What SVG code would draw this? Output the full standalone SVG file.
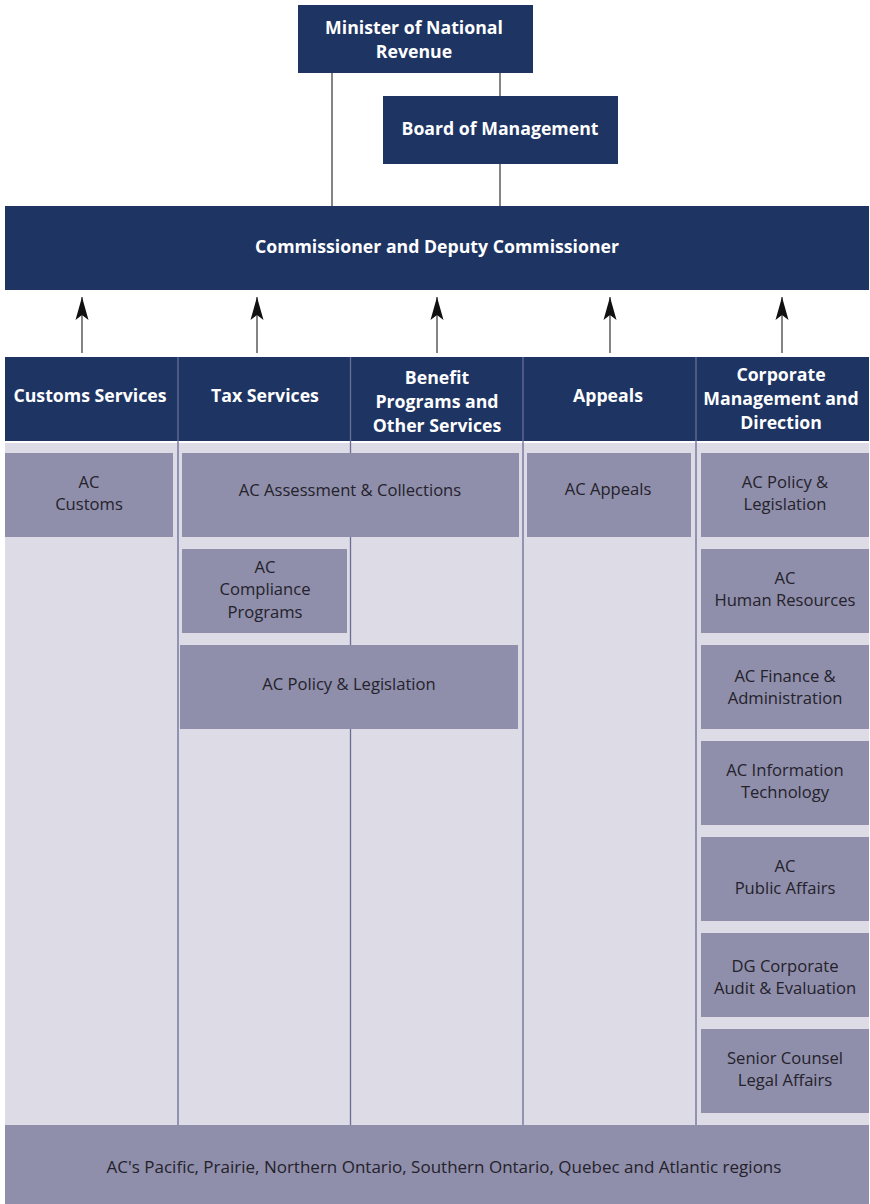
<svg xmlns="http://www.w3.org/2000/svg" width="870" height="1204" viewBox="0 0 870 1204">
<defs>
<style>
.dark{fill:#1e3463}
.light{fill:#dddbe6}
.box{fill:#8f8eab}
.hd{font-family:"Open Sans","Noto Sans",sans-serif;font-weight:bold;font-size:17.7px;fill:#ffffff;text-anchor:middle}
.tx{font-family:"Open Sans","Noto Sans",sans-serif;font-size:16.6px;fill:#24222a;text-anchor:middle}
.div{stroke:#6a6d96;stroke-width:1.3;fill:none}
.con{stroke:#333333;stroke-width:1.2;fill:none}
</style>
<marker id="arr" viewBox="-24 -7 25 14" refX="0" refY="0" markerWidth="25" markerHeight="14" markerUnits="userSpaceOnUse" orient="auto">
<path d="M0,0 L-23,-6.5 L-18,0 L-23,6.5 Z" fill="#111111"/>
</marker>
</defs>
<rect width="870" height="1204" fill="#ffffff"/>

<g id="connectors">
<line class="con" x1="332" y1="73" x2="332" y2="206"/>
<line class="con" x1="500" y1="73" x2="500" y2="96"/>
<line class="con" x1="500" y1="164" x2="500" y2="206"/>
<line class="con" x1="82" y1="353" x2="82" y2="297" marker-end="url(#arr)"/>
<line class="con" x1="257" y1="353" x2="257" y2="297" marker-end="url(#arr)"/>
<line class="con" x1="437" y1="353" x2="437" y2="297" marker-end="url(#arr)"/>
<line class="con" x1="610" y1="353" x2="610" y2="297" marker-end="url(#arr)"/>
<line class="con" x1="782" y1="353" x2="782" y2="297" marker-end="url(#arr)"/>
</g>

<g id="minister">
<rect class="dark" x="298" y="5" width="235" height="68"/>
<text class="hd" x="414" y="34">Minister of National</text>
<text class="hd" x="414" y="58">Revenue</text>
</g>
<g id="board">
<rect class="dark" x="383" y="96" width="235" height="68"/>
<text class="hd" x="500" y="135">Board of Management</text>
</g>
<g id="commissioner">
<rect class="dark" x="5" y="206" width="864" height="84"/>
<text class="hd" x="437" y="253">Commissioner and Deputy Commissioner</text>
</g>

<g id="columns-bg">
<rect class="dark" x="5" y="357" width="864" height="84"/>
<rect class="light" x="5" y="443" width="864" height="682"/>
</g>

<g id="dividers">
<line class="div" x1="178" y1="357" x2="178" y2="1125"/>
<line class="div" x1="350.5" y1="357" x2="350.5" y2="1125"/>
<line class="div" x1="523" y1="357" x2="523" y2="1125"/>
<line class="div" x1="696" y1="357" x2="696" y2="1125"/>
</g>

<g id="hdr-customs"><text class="hd" x="90" y="402">Customs Services</text></g>
<g id="hdr-tax"><text class="hd" x="265" y="402">Tax Services</text></g>
<g id="hdr-benefit">
<text class="hd" x="437" y="384">Benefit</text>
<text class="hd" x="437" y="408">Programs and</text>
<text class="hd" x="437" y="432">Other Services</text>
</g>
<g id="hdr-appeals"><text class="hd" x="608" y="402">Appeals</text></g>
<g id="hdr-corporate">
<text class="hd" x="781" y="381">Corporate</text>
<text class="hd" x="781" y="405">Management and</text>
<text class="hd" x="781" y="429">Direction</text>
</g>

<g id="ac-customs">
<rect class="box" x="5" y="453" width="168" height="84"/>
<text class="tx" x="89" y="488">AC</text>
<text class="tx" x="89" y="510">Customs</text>
</g>
<g id="ac-assessment">
<rect class="box" x="182" y="453" width="337" height="84"/>
<text class="tx" x="350" y="496">AC Assessment &amp; Collections</text>
</g>
<g id="ac-compliance">
<rect class="box" x="182" y="549" width="165" height="84"/>
<text class="tx" x="265" y="573">AC</text>
<text class="tx" x="265" y="595">Compliance</text>
<text class="tx" x="265" y="618">Programs</text>
</g>
<g id="ac-policy-tax">
<rect class="box" x="180" y="645" width="338" height="84"/>
<text class="tx" x="349" y="690">AC Policy &amp; Legislation</text>
</g>
<g id="ac-appeals">
<rect class="box" x="527" y="453" width="164" height="84"/>
<text class="tx" x="608" y="495">AC Appeals</text>
</g>

<g id="ac-policy-corp">
<rect class="box" x="701" y="453" width="168" height="84"/>
<text class="tx" x="785" y="488">AC Policy &amp;</text>
<text class="tx" x="785" y="510">Legislation</text>
</g>
<g id="ac-hr">
<rect class="box" x="701" y="549" width="168" height="84"/>
<text class="tx" x="785" y="584">AC</text>
<text class="tx" x="785" y="606">Human Resources</text>
</g>
<g id="ac-finance">
<rect class="box" x="701" y="645" width="168" height="84"/>
<text class="tx" x="785" y="682">AC Finance &amp;</text>
<text class="tx" x="785" y="704">Administration</text>
</g>
<g id="ac-it">
<rect class="box" x="701" y="741" width="168" height="84"/>
<text class="tx" x="785" y="776">AC Information</text>
<text class="tx" x="785" y="798">Technology</text>
</g>
<g id="ac-public">
<rect class="box" x="701" y="837" width="168" height="84"/>
<text class="tx" x="785" y="872">AC</text>
<text class="tx" x="785" y="894">Public Affairs</text>
</g>
<g id="dg-audit">
<rect class="box" x="701" y="933" width="168" height="84"/>
<text class="tx" x="785" y="972">DG Corporate</text>
<text class="tx" x="785" y="994">Audit &amp; Evaluation</text>
</g>
<g id="senior-counsel">
<rect class="box" x="701" y="1029" width="168" height="84"/>
<text class="tx" x="785" y="1064">Senior Counsel</text>
<text class="tx" x="785" y="1086">Legal Affairs</text>
</g>

<g id="regions">
<rect class="box" x="5" y="1125" width="864" height="79"/>
<text class="tx" x="444" y="1173" style="font-size:17px">AC's Pacific, Prairie, Northern Ontario, Southern Ontario, Quebec and Atlantic regions</text>
</g>
</svg>
